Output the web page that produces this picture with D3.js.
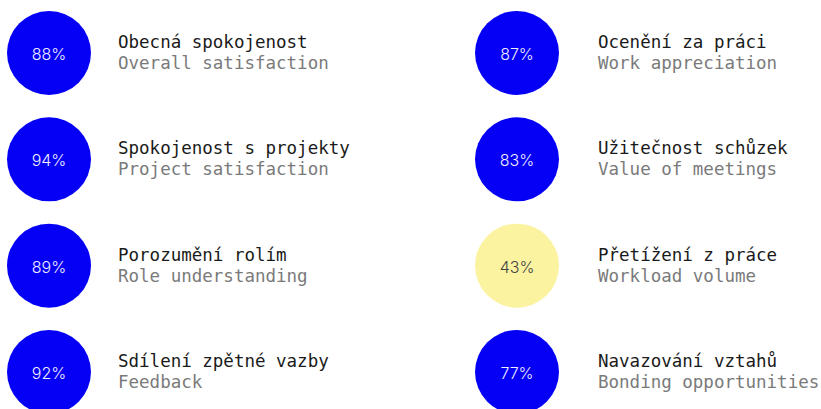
<!DOCTYPE html>
<html>
<head>
<meta charset="utf-8">
<script src="https://cdn.jsdelivr.net/npm/d3@7"></script>
<style>
  body { margin: 0; background: #fff; }
</style>
</head>
<body>
<div id="chart"></div>
<script>
// survey results, two columns of four
const titlesCz = ["Obecná spokojenost", "Spokojenost s projekty", "Porozumění rolím", "Sdílení zpětné vazby",
                  "Ocenění za práci", "Užitečnost schůzek", "Přetížení z práce", "Navazování vztahů"]
const titlesEn = ["Overall satisfaction", "Project satisfaction", "Role understanding", "Feedback",
                  "Work appreciation", "Value of meetings", "Workload volume", "Bonding opportunities"]
const values = [88, 94, 89, 92, 87, 83, 43, 77]

const width = 821, height = 409

const svg = d3.select("#chart").append("svg").attr("width", width).attr("height", height)

const col = d3.scalePoint().domain([0, 1]).range([49, 517])
const textX = d3.scalePoint().domain([0, 1]).range([118, 598])
const row = d3.scalePoint().domain([0, 1, 2, 3]).range([53, 372])
const color = d3.scaleThreshold().domain([50]).range(["#fbf3a0", "#0500f5"])

const items = values.map((v, i) => ({ v: v, cz: titlesCz[i], en: titlesEn[i], c: Math.floor(i / 4), r: i % 4 }))

const g = svg.selectAll("g.item").data(items).join("g")
  .attr("class", "item")
  .attr("transform", d => `translate(0,${row(d.r)})`)

g.append("circle").attr("cx", d => col(d.c)).attr("r", 42).attr("fill", d => color(d.v))

g.append("text")
  .attr("x", d => col(d.c)).attr("y", 7)
  .attr("text-anchor", "middle")
  .attr("font-family", "Inter").attr("font-size", 16).attr("font-weight", 300)
  .attr("fill", d => d.v < 50 ? "#444" : "#eeeeff")
  .text(d => d.v + "%")

g.append("text")
  .attr("x", d => textX(d.c)).attr("y", -5)
  .attr("font-family", "DejaVu Sans Mono").attr("font-size", 17.5)
  .attr("fill", "#1a1a1a")
  .text(d => d.cz)

g.append("text")
  .attr("x", d => textX(d.c)).attr("y", 16)
  .attr("font-family", "DejaVu Sans Mono").attr("font-size", 17.5)
  .attr("fill", "#7a7a7a")
  .text(d => d.en)
</script>
</body>
</html>
